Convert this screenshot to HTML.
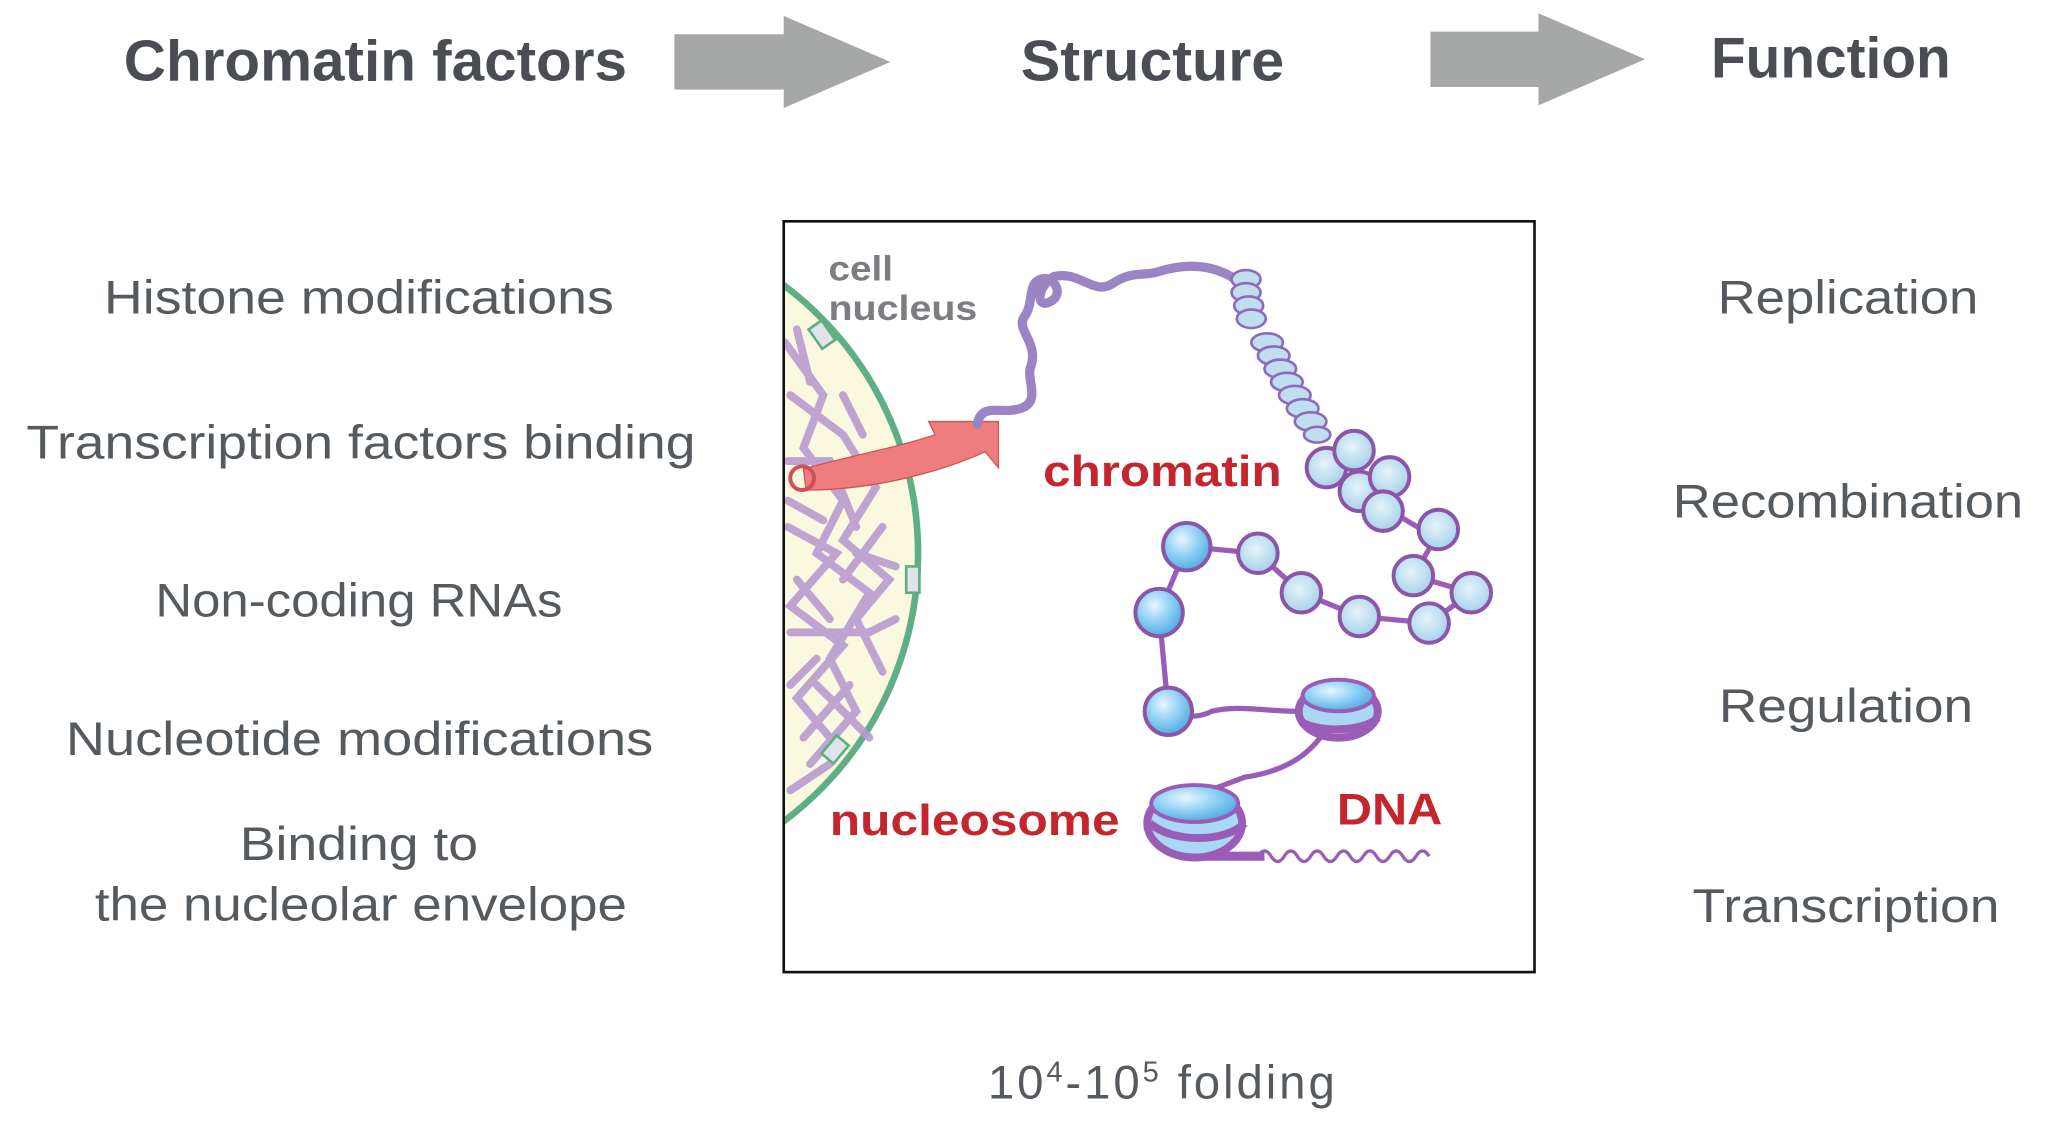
<!DOCTYPE html>
<html><head><meta charset="utf-8"><style>
html,body{margin:0;padding:0;background:#fff;}
svg{display:block;}
text{font-family:"Liberation Sans",sans-serif;}
</style></head><body>
<svg width="2064" height="1136" viewBox="0 0 1567 862.4" xmlns="http://www.w3.org/2000/svg">
<defs>
<clipPath id="box"><rect x="596" y="169" width="568" height="568"/></clipPath>
<radialGradient id="nb" cx="0.4" cy="0.35" r="0.7"><stop offset="0" stop-color="#e8f6ff"/><stop offset="0.5" stop-color="#8fd0f5"/><stop offset="1" stop-color="#4aa6dd"/></radialGradient>
<radialGradient id="nbs" cx="0.45" cy="0.4" r="0.7"><stop offset="0" stop-color="#e6f4fb"/><stop offset="1" stop-color="#9ccbe6"/></radialGradient>
</defs>
<g font-weight="bold" font-size="44" fill="#4a4d52">
<text x="94" y="61" textLength="382" lengthAdjust="spacingAndGlyphs">Chromatin factors</text>
<text x="775" y="61" textLength="200" lengthAdjust="spacingAndGlyphs">Structure</text>
<text x="1299" y="59" textLength="182" lengthAdjust="spacingAndGlyphs">Function</text>
</g>
<polygon points="512,26 595,26 595,12 676,47 595,82 595,68 512,68" fill="#a6a8a7"/>
<polygon points="1086,24 1168,24 1168,10 1249,45 1168,80 1168,66 1086,66" fill="#a6a8a7"/>
<g font-size="36" fill="#555a5f">
<text x="79" y="238" textLength="387" lengthAdjust="spacingAndGlyphs">Histone modifications</text>
<text x="20" y="348" textLength="508" lengthAdjust="spacingAndGlyphs">Transcription factors binding</text>
<text x="118" y="468" textLength="309" lengthAdjust="spacingAndGlyphs">Non-coding RNAs</text>
<text x="50" y="573" textLength="446" lengthAdjust="spacingAndGlyphs">Nucleotide modifications</text>
<text x="182" y="653" textLength="181" lengthAdjust="spacingAndGlyphs">Binding to</text>
<text x="72" y="699" textLength="404" lengthAdjust="spacingAndGlyphs">the nucleolar envelope</text>
<text x="1304" y="238" textLength="198" lengthAdjust="spacingAndGlyphs">Replication</text>
<text x="1270" y="393" textLength="266" lengthAdjust="spacingAndGlyphs">Recombination</text>
<text x="1305" y="548" textLength="193" lengthAdjust="spacingAndGlyphs">Regulation</text>
<text x="1285" y="700" textLength="233" lengthAdjust="spacingAndGlyphs">Transcription</text>
<text x="750" y="834" letter-spacing="2.2">10<tspan font-size="22" dy="-13">4</tspan><tspan dy="13">-10</tspan><tspan font-size="22" dy="-13">5</tspan><tspan dy="13"> folding</tspan></text>
</g>
<rect x="595" y="168" width="570" height="570" fill="#fff" stroke="#111" stroke-width="2"/>
<g clip-path="url(#box)">
<circle cx="443" cy="420" r="254" fill="#fbf8e0" stroke="#5fae85" stroke-width="5"/>
<g stroke="#b89ad0" stroke-width="6" fill="none" stroke-linecap="round" opacity="0.9">
<path d="M596,260 L625,300 L610,340 L640,380 L620,420 L660,450 L630,500 L650,540 L615,580"/>
<path d="M600,300 L640,330 L665,370 L640,410 L675,440 L650,470 L670,510"/>
<path d="M598,400 L635,420 L600,460 L640,490 L605,530 L630,560"/>
<path d="M605,250 L615,290 M598,350 L630,350 L650,400 M600,480 L660,480 M610,560 L645,520 M600,600 L630,580"/>
<path d="M650,420 L680,430 M640,440 L670,400 M620,520 L660,560 M598,380 L625,395 M600,520 L620,500 M605,440 L630,470 M640,300 L655,330 M660,480 L680,470"/>
</g>
<g fill="#e0e3ea" stroke="#5fae85" stroke-width="2">
<rect x="618" y="245" width="12" height="18" transform="rotate(-35 624 254)"/>
<rect x="688" y="430" width="10" height="20"/>
<rect x="628" y="560" width="12" height="18" transform="rotate(40 634 569)"/>
</g>
</g>
<text x="629" y="213" font-size="27" font-weight="bold" fill="#7c7d80" textLength="49" lengthAdjust="spacingAndGlyphs">cell</text>
<text x="629" y="243" font-size="27" font-weight="bold" fill="#7c7d80" textLength="113" lengthAdjust="spacingAndGlyphs">nucleus</text>
<path d="M610,356 C650,345 680,340 710,330 L705,320 L758,320 L758,355 L748,343 C710,360 660,372 612,372 Z" fill="#ef7d7d" stroke="#c55" stroke-width="1"/>
<circle cx="609" cy="363" r="9" fill="none" stroke="#d04f55" stroke-width="3"/>
<path d="M742,322 C745,305 760,315 775,310 C790,305 780,290 782,280 C790,260 770,250 778,240 C785,230 780,215 790,212 C800,208 810,225 795,230 C785,232 790,215 800,210 C820,205 830,225 845,215 C860,205 870,210 880,206 C900,200 920,200 938,212" stroke="#9a84c4" stroke-width="7" fill="none" stroke-linecap="round"/>
<g fill="#c0def0" stroke="#8e6bb8" stroke-width="2">
<ellipse cx="946" cy="212" rx="11" ry="7"/><ellipse cx="946" cy="222" rx="11" ry="7"/><ellipse cx="948" cy="232" rx="11" ry="7"/><ellipse cx="950" cy="242" rx="11" ry="7"/>
<ellipse cx="962" cy="260" rx="12" ry="7"/><ellipse cx="967" cy="270" rx="12" ry="7"/><ellipse cx="972" cy="280" rx="12" ry="7"/><ellipse cx="977" cy="290" rx="12" ry="7"/><ellipse cx="983" cy="300" rx="12" ry="7"/><ellipse cx="989" cy="310" rx="12" ry="7"/><ellipse cx="995" cy="320" rx="12" ry="7"/><ellipse cx="1000" cy="330" rx="10" ry="6"/>
</g>
<path d="M1050,385 C1070,395 1080,405 1092,405 M1092,405 L1073,437 L1117,450 L1085,473 L1032,468 L988,450 L955,420 L901,415 L880,465 L887,540 C900,545 910,545 920,540 C940,535 960,540 985,540 L1015,535 M1015,540 C1000,570 980,585 945,590 L905,605" stroke="#9b5cb7" stroke-width="4" fill="none"/>
<path d="M905,650 L960,650" stroke="#9b5cb7" stroke-width="7"/>
<path d="M955,650 q5,-8 10,0 t10,0 t10,0 t10,0 t10,0 t10,0 t10,0 t10,0 t10,0 t10,0 t10,0 t10,0 t10,0" stroke="#9b5cb7" stroke-width="2.5" fill="none"/>
<g stroke="#8b56a8" stroke-width="3">
<circle cx="1007" cy="355" r="15" fill="url(#nbs)"/><circle cx="1032" cy="373" r="15" fill="url(#nbs)"/><circle cx="1055" cy="362" r="15" fill="url(#nbs)"/><circle cx="1028" cy="342" r="15" fill="url(#nbs)"/><circle cx="1050" cy="388" r="15" fill="url(#nbs)"/>
<circle cx="1092" cy="402" r="15" fill="url(#nbs)"/><circle cx="1073" cy="437" r="15" fill="url(#nbs)"/><circle cx="1117" cy="450" r="15" fill="url(#nbs)"/><circle cx="1085" cy="473" r="15" fill="url(#nbs)"/><circle cx="1032" cy="468" r="15" fill="url(#nbs)"/><circle cx="988" cy="450" r="15" fill="url(#nbs)"/><circle cx="955" cy="420" r="15" fill="url(#nbs)"/>
<circle cx="901" cy="415" r="18" fill="url(#nb)"/><circle cx="880" cy="465" r="18" fill="url(#nb)"/><circle cx="887" cy="540" r="18" fill="url(#nb)"/>
</g>
<g stroke="#9b5cb7" stroke-width="6">
<ellipse cx="1016" cy="540" rx="30" ry="20" fill="#a8d8f3"/>
<ellipse cx="1016" cy="528" rx="27" ry="12" fill="url(#nb)" stroke-width="3"/>
<ellipse cx="907" cy="625" rx="36" ry="26" fill="#a8d8f3"/>
<ellipse cx="907" cy="610" rx="33" ry="14" fill="url(#nb)" stroke-width="3"/>
</g>
<path d="M873,625 C890,640 930,640 945,625" stroke="#9b5cb7" stroke-width="6" fill="none"/>
<path d="M988,548 C1000,556 1035,556 1046,545" stroke="#9b5cb7" stroke-width="6" fill="none"/>
<text x="792" y="369" font-size="33" font-weight="bold" fill="#c4262e" textLength="181" lengthAdjust="spacingAndGlyphs">chromatin</text>
<text x="630" y="634" font-size="33" font-weight="bold" fill="#c4262e" textLength="220" lengthAdjust="spacingAndGlyphs">nucleosome</text>
<text x="1015" y="626" font-size="34" font-weight="bold" fill="#c4262e" textLength="80" lengthAdjust="spacingAndGlyphs">DNA</text>
</svg>
</body></html>
